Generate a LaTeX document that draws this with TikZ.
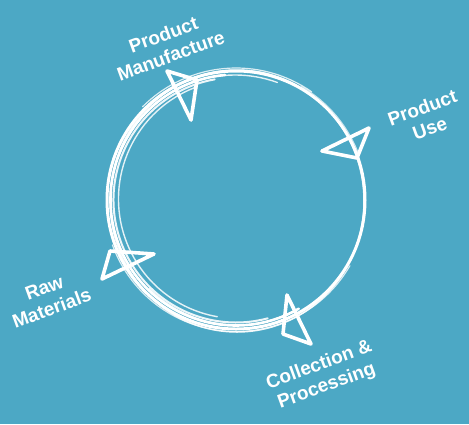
\documentclass[tikz,border=0pt]{standalone}
\usepackage{fontspec}
\setmainfont{Liberation Sans}
\usetikzlibrary{calc}
\definecolor{bg}{RGB}{76,168,197}
\tikzset{
  lbl/.style={text=white, font=\bfseries\fontsize{19}{22}\selectfont, align=center, rotate=20, inner sep=0pt},
  brush/.style={draw=white, line cap=round, line join=round},
  tri/.style={draw=white, line width=3.6pt, line cap=round, line join=round},
}
\begin{document}
\begin{tikzpicture}[x=1pt,y=1pt]
\path[fill=bg,use as bounding box] (0,0) rectangle (469,-424);
\coordinate (c) at (236,-200);
% main ring
\draw[brush, line width=3pt] (c) circle (129);
\draw[brush, line width=1.5pt, opacity=0.9] ($(c)+(1,-1)$) circle [x radius=127, y radius=131];
% thicker brushy left part
\draw[brush, line width=2.6pt] ([shift={(236,-200)}]95:125.5) arc[start angle=95, end angle=300, radius=125.5];
\draw[brush, line width=2pt, opacity=0.9] ([shift={(236,-200)}]100:122.5) arc[start angle=100, end angle=285, radius=122.5];
\draw[brush, line width=1.4pt, opacity=0.85] ([shift={(238,-199)}]110:119.5) arc[start angle=110, end angle=260, radius=119.5];
\draw[brush, line width=1.2pt, opacity=0.8] ([shift={(236,-200)}]55:132) arc[start angle=55, end angle=135, radius=132];
\draw[brush, line width=1.2pt, opacity=0.8] ([shift={(236,-200)}]200:131.5) arc[start angle=200, end angle=330, radius=131.5];
\draw[brush, line width=1.4pt, opacity=0.85] ([shift={(237,-201)}]225:124) arc[start angle=225, end angle=295, radius=124];
\draw[brush, line width=1.4pt, opacity=0.85] ([shift={(235,-199)}]70:124) arc[start angle=70, end angle=150, radius=124];
\draw[brush, line width=1pt, opacity=0.7] ([shift={(236,-200)}]20:131) arc[start angle=20, end angle=60, radius=131];
% arrow triangles
\coordinate (pm1) at (167,-71); \coordinate (pm2) at (197,-80); \coordinate (pm3) at (191,-120);
\draw[tri] (pm1) -- (pm2) -- (pm3) -- cycle;
\coordinate (pu1) at (322,-151); \coordinate (pu2) at (369,-128); \coordinate (pu3) at (357,-158);
\draw[tri] (pu1) -- (pu2) -- (pu3) -- cycle;
\coordinate (cp1) at (287,-295); \coordinate (cp2) at (311,-344); \coordinate (cp3) at (283,-334);
\draw[tri] (cp1) -- (cp2) -- (cp3) -- cycle;
\coordinate (rm1) at (110,-251); \coordinate (rm2) at (154,-254); \coordinate (rm3) at (102,-279);
\draw[tri] (rm1) -- (rm2) -- (rm3) -- cycle;
% labels
\node[lbl] (pm) at (167,-45) {Product\\Manufacture};
\node[lbl] (pu) at (426,-118) {Product\\Use};
\node[lbl] (rm) at (48,-298) {Raw\\Materials};
\node[lbl] (cp) at (323,-376) {Collection \&\\Processing};
\end{tikzpicture}
\end{document}
